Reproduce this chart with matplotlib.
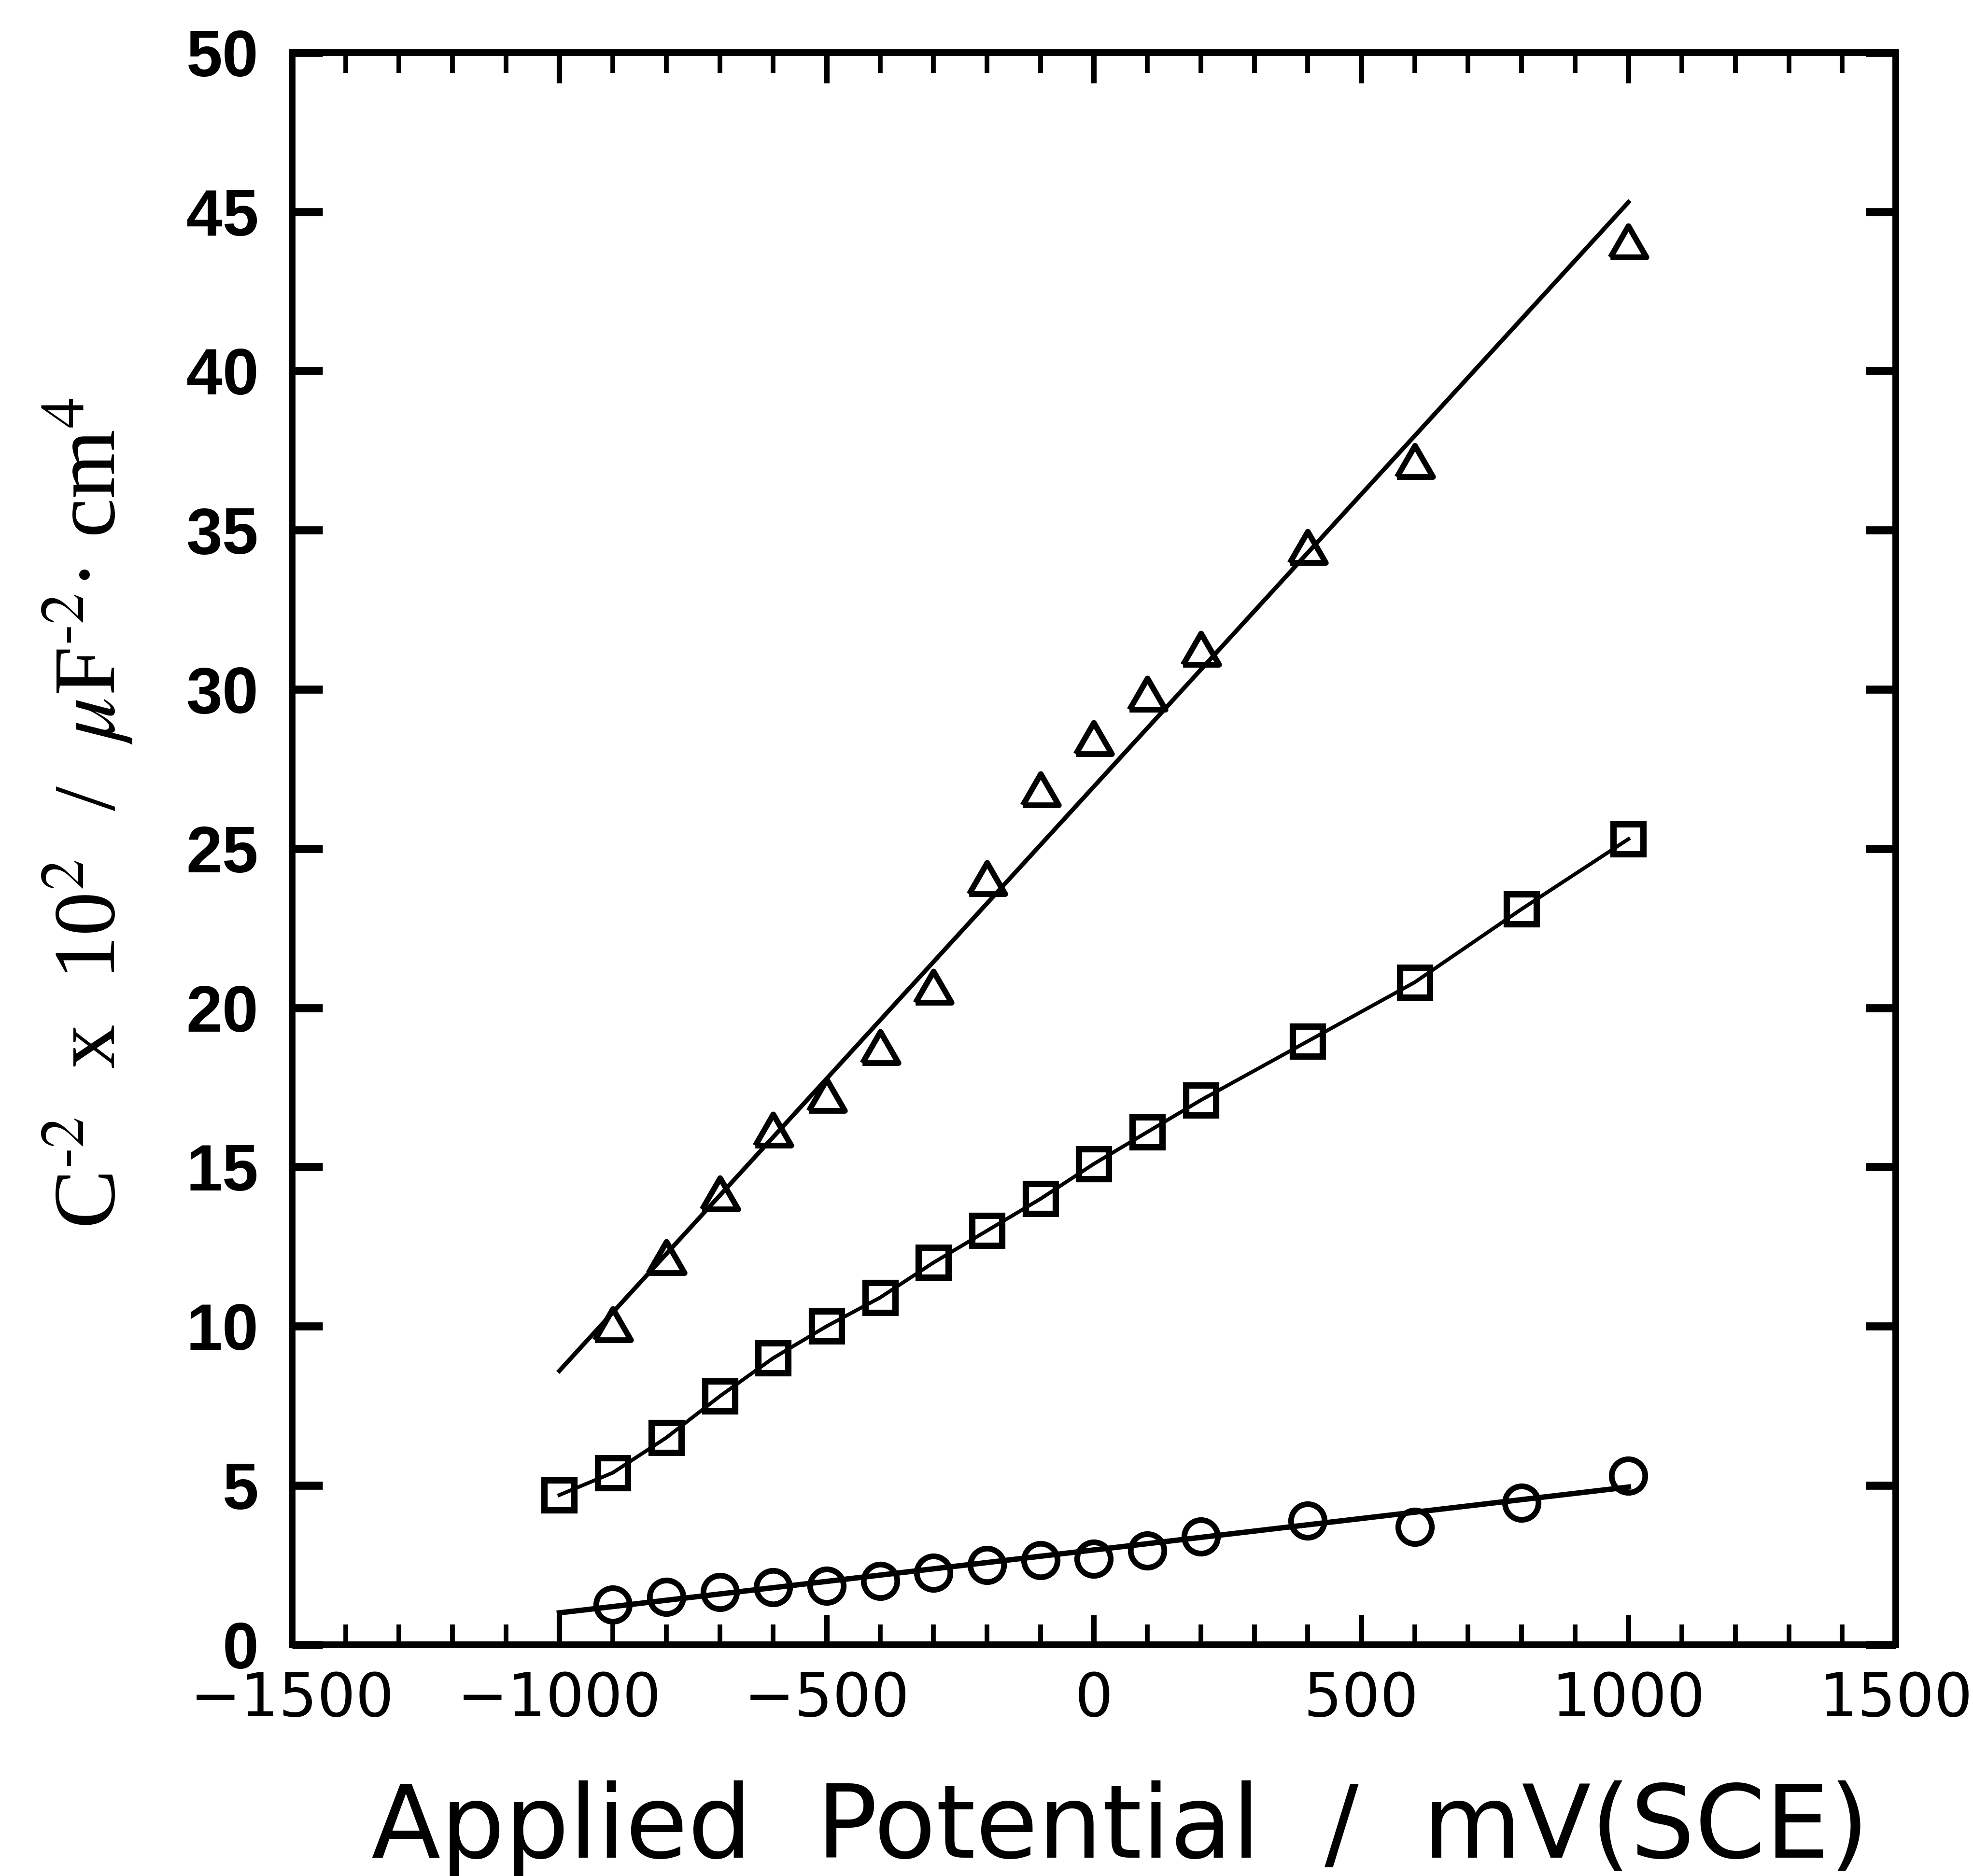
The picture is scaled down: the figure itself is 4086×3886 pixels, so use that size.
import numpy as np
from matplotlib import pyplot as plt
from matplotlib.ticker import MultipleLocator

# Mott-Schottky data, C^-2 x 10^2 (uF^-2 cm^4) vs applied potential (mV vs SCE)
potential_tri = [-900, -800, -700, -600, -500, -400, -300, -200, -100, 0, 100, 200, 400, 600, 1000]
c2_tri = [9.9, 12.0, 14.0, 16.0, 17.1, 18.6, 20.5, 23.9, 26.7, 28.3, 29.7, 31.1, 34.3, 37.0, 43.9]

potential_sq = [-1000, -900, -800, -700, -600, -500, -400, -300, -200, -100, 0, 100, 200, 400, 600, 800, 1000]
c2_sq = [4.7, 5.4, 6.5, 7.8, 9.0, 10.0, 10.9, 12.0, 13.0, 14.0, 15.1, 16.1, 17.1, 18.95, 20.8, 23.1, 25.3]

potential_circ = [-900, -800, -700, -600, -500, -400, -300, -200, -100, 0, 100, 200, 400, 600, 800, 1000]
c2_circ = [1.25, 1.5, 1.65, 1.8, 1.85, 2.0, 2.25, 2.5, 2.65, 2.7, 2.95, 3.4, 3.9, 3.7, 4.45, 5.3]

# straight-line fits (end points)
fit_potential = [-1000, 1000]
fit_tri = [8.6, 45.3]
fit_circ = [1.0, 4.95]

x_ticks = [-1500, -1000, -500, 0, 500, 1000, 1500]
y_ticks = [0, 5, 10, 15, 20, 25, 30, 35, 40, 45, 50]

plt.rcParams['mathtext.fontset'] = 'stix'


def main():
    fig = plt.figure(figsize=(40.87, 38.86), dpi=100)
    ax = fig.add_axes([0.148, 0.1233, 0.8126, 0.8487])

    # equilateral open triangle
    tri = [(-1, -0.5774), (1, -0.5774), (0, 1.1547), (-1, -0.5774)]

    ax.plot(fit_potential, fit_tri, color='black', lw=6.5, zorder=2)
    ax.plot(fit_potential, fit_circ, color='black', lw=8, zorder=2)
    ax.plot(potential_sq, c2_sq, color='black', lw=5.5, zorder=2)

    ax.plot(potential_tri, c2_tri, ls='none', marker=tri, ms=62, mfc='none',
            mec='black', mew=8.5, zorder=3)
    ax.plot(potential_sq, c2_sq, ls='none', marker='s', ms=44, mfc='none',
            mec='black', mew=9.5, zorder=3)
    ax.plot(potential_circ, c2_circ, ls='none', marker='o', ms=50, mfc='none',
            mec='black', mew=8.5, zorder=3)

    ax.set_xlim(-1500, 1500)
    ax.set_ylim(0, 50)
    ax.set_xticks(x_ticks)
    ax.set_yticks(y_ticks)
    ax.xaxis.set_minor_locator(MultipleLocator(100))

    for s in ax.spines.values():
        s.set_linewidth(10)

    ax.tick_params(axis='x', which='major', direction='in', top=True, length=45, width=8,
                   pad=38, labelsize=90)
    ax.tick_params(axis='x', which='minor', direction='in', top=True, length=30, width=7)
    ax.tick_params(axis='y', which='major', direction='in', right=True, length=45, width=12,
                   pad=50)
    for lab in ax.get_yticklabels():
        lab.set_fontfamily('Liberation Sans')
        lab.set_fontweight('bold')
        lab.set_fontsize(97)
    for lab in ax.get_xticklabels():
        lab.set_fontfamily('DejaVu Sans')

    fig.text(0.5675, 0.0098, 'Applied  Potential  /  mV(SCE)', ha='center', va='baseline',
             fontsize=151, fontfamily='DejaVu Sans')
    fig.text(0.0585, 0.5665,
             r'C$^{\text{-}2}$  x  10$^{2}$  /  $\mu$F$^{\text{-}2}$· cm$^{4}$',
             rotation=90, rotation_mode='anchor', ha='center', va='baseline',
             fontsize=132, fontfamily='Liberation Serif')

    fig.savefig('out.png', dpi=100, facecolor='white')


if __name__ == "__main__":
    main()
